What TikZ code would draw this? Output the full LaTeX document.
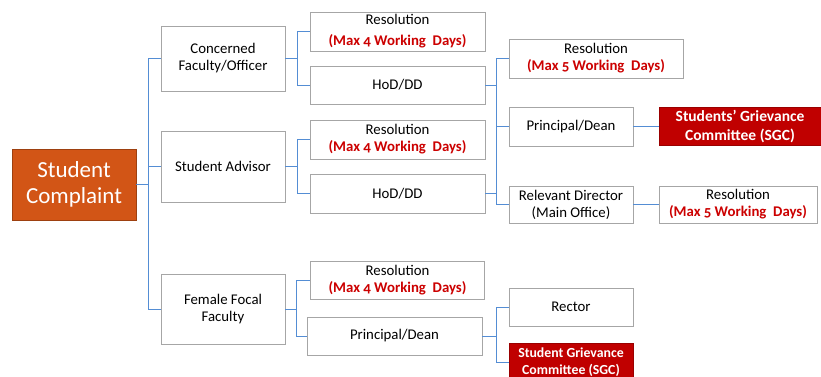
\documentclass[tikz,border=0pt]{standalone}
\usepackage{fontspec}
\setmainfont{Carlito}[Numbers=OldStyle]
\definecolor{linkblue}{RGB}{84,141,212}
\definecolor{boxgray}{RGB}{166,166,166}
\definecolor{complaintorange}{RGB}{210,85,22}
\definecolor{daysred}{RGB}{204,0,0}
\definecolor{sgcred}{RGB}{192,0,0}
\newcommand{\maxdays}[1]{{\color{daysred}\bfseries (Max #1 Working\ \ Days)}}

\begin{document}
\begin{tikzpicture}[ x=1pt, y=-1pt,
        box/.style = { shape=rectangle, draw=boxgray, fill=white, inner sep=0pt, align=center, font=\fontsize{14.8}{17}\selectfont },
        sgc/.style = { box, draw=sgcred!80!black, fill=sgcred, text=white, font=\fontsize{15.5}{19}\selectfont\bfseries },
        link/.style = { draw=linkblue, line width=0.9pt } ]
            \clip (0,0) rectangle (821,377);
            % first column
            \node (nComplaint) [ box, draw=complaintorange!75!black, fill=complaintorange, text=white, minimum width=124pt, minimum height=71pt, font=\fontsize{23}{26}\selectfont ] at (74,184.5) {Student\\Complaint};
            \node (nConcerned) [ box, minimum width=124pt, minimum height=65pt ] at (223,58.5) {Concerned\\Faculty/Officer};
            \node (nAdvisor) [ box, minimum width=124pt, minimum height=71pt ] at (223,166.5) {Student Advisor};
            \node (nFemale) [ box, minimum width=124pt, minimum height=70pt ] at (223,309) {Female Focal\\Faculty};
            % second column
            \node (nResolutionA) [ box, minimum width=175pt, minimum height=39pt ] at (397.5,31.5) {Resolution\\[4pt]\maxdays{4}};
            \node (nHodA) [ box, minimum width=175pt, minimum height=38pt ] at (397.5,85) {HoD/DD};
            \node (nResolutionB) [ box, minimum width=175pt, minimum height=39pt ] at (397.5,139.5) {Resolution\\\maxdays{4}};
            \node (nHodB) [ box, minimum width=175pt, minimum height=39pt ] at (397.5,193.5) {HoD/DD};
            \node (nResolutionC) [ box, minimum width=174pt, minimum height=38pt ] at (397.5,280.5) {Resolution\\\maxdays{4}};
            \node (nPrincipalC) [ box, minimum width=175pt, minimum height=38pt ] at (394.5,336) {Principal/Dean};
            % third column
            \node (nResolutionD) [ box, minimum width=174pt, minimum height=39pt ] at (596,58.5) {Resolution\\\maxdays{5}};
            \node (nPrincipalA) [ box, minimum width=124pt, minimum height=39pt ] at (571,126.5) {Principal/Dean};
            \node (nSgcA) [ right of = nPrincipalA, node distance = 169pt, sgc, minimum width=162pt, minimum height=38pt ] {Students’ Grievance\\Committee (SGC)};
            \node (nDirector) [ box, minimum width=124pt, minimum height=37pt ] at (571,204.5) {Relevant Director\\(Main Office)};
            \node (nResolutionE) [ right of = nDirector, node distance = 167pt, box, minimum width=158pt, minimum height=37pt ] {Resolution\\\maxdays{5}};
            \node (nRector) [ box, minimum width=124pt, minimum height=38pt ] at (571,307) {Rector};
            \node (nSgcC) [ sgc, minimum width=124pt, minimum height=38pt, font=\fontsize{13.8}{16.5}\selectfont\bfseries ] at (571,362) {Student Grievance\\Committee (SGC)};
            % connectors
            \draw [link] (nComplaint.east) -- ++(12,0) |- (nConcerned.west);
            \draw [link] (nComplaint.east) -- ++(12,0) |- (nAdvisor.west);
            \draw [link] (nComplaint.east) -- ++(12,0) |- (nFemale.west);
            \draw [link] (nConcerned.east) -- ++(12,0) |- (nResolutionA.west);
            \draw [link] (nConcerned.east) -- ++(12,0) |- (nHodA.west);
            \draw [link] (nAdvisor.east) -- ++(12,0) |- (nResolutionB.west);
            \draw [link] (nAdvisor.east) -- ++(12,0) |- (nHodB.west);
            \draw [link] (nFemale.east) -- ++(11,0) |- (nResolutionC.west);
            \draw [link] (nFemale.east) -- ++(11,0) |- (nPrincipalC.west);
            \draw [link] (nHodA.east) -- ++(11,0) |- (nResolutionD.west);
            \draw [link] (nHodA.east) -- ++(11,0) |- (nPrincipalA.west);
            \draw [link] (nHodA.east) -- ++(11,0) |- (nDirector.west);
            \draw [link] (nHodB.east) -- ++(11,0) |- (nDirector.west);
            \draw [link] (nPrincipalA) -- (nSgcA);
            \draw [link] (nDirector) -- (nResolutionE);
            \draw [link] (nPrincipalC.east) -- ++(14,0) |- (nRector.west);
            \draw [link] (nPrincipalC.east) -- ++(14,0) |- (nSgcC.west);
\end{tikzpicture}
\end{document}
